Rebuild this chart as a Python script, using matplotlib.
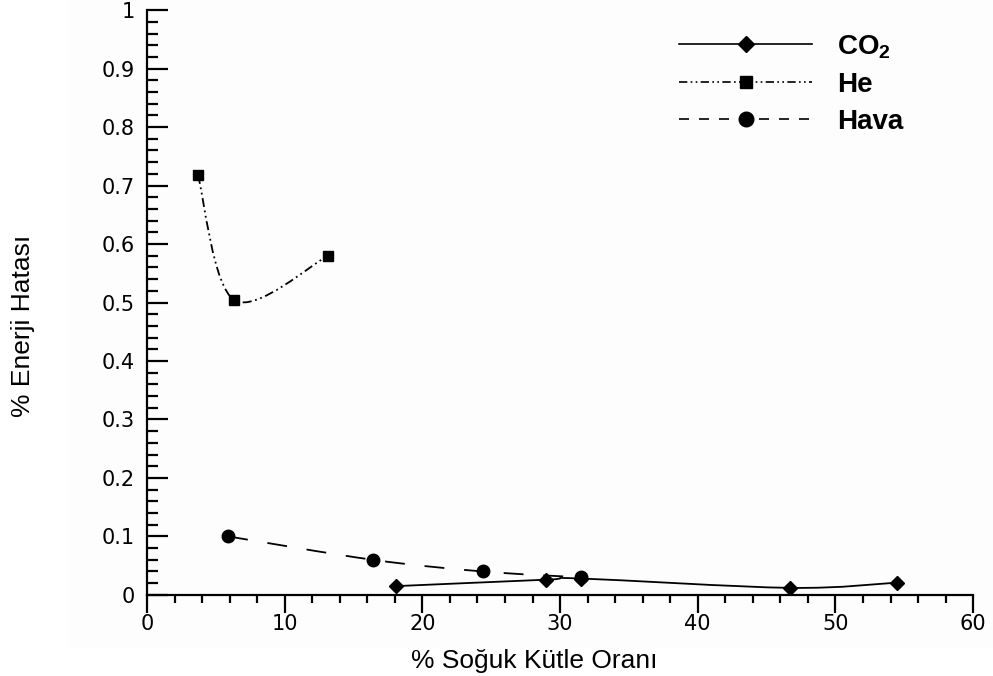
import matplotlib
matplotlib.use('Agg')
import matplotlib.pyplot as plt
import numpy as np
from matplotlib.path import Path
from matplotlib.patches import PathPatch, Rectangle
from matplotlib.lines import Line2D
from matplotlib.ticker import MultipleLocator, FuncFormatter

plt.rcParams['mathtext.fontset'] = 'custom'
plt.rcParams['mathtext.rm'] = 'Liberation Sans'
plt.rcParams['mathtext.bf'] = 'Liberation Sans:bold'

# % cold mass fraction vs % energy error
co2_x = [18.1, 29.0, 31.5, 46.7, 54.5]
co2_y = [0.015, 0.026, 0.028, 0.012, 0.021]
he_x = [3.7, 6.35, 13.15]
he_y = [0.718, 0.504, 0.580]
hava_x = [5.9, 16.4, 24.4, 31.5]
hava_y = [0.100, 0.060, 0.040, 0.030]


def smooth_path(x, y):
    # catmull-rom style bezier through the points
    p = np.column_stack([x, y]).astype(float)
    pts = np.vstack([p[0], p, p[-1]])
    verts = [p[0]]
    codes = [Path.MOVETO]
    for i in range(1, len(pts) - 2):
        c1 = pts[i] + (pts[i + 1] - pts[i - 1]) / 6.0
        c2 = pts[i + 1] - (pts[i + 2] - pts[i]) / 6.0
        verts += [c1, c2, pts[i + 1]]
        codes += [Path.CURVE4] * 3
    return Path(verts, codes)


fig = plt.figure(figsize=(9.93, 6.76), dpi=100)
fig.patches.append(Rectangle((68 / 993, 1 - 647 / 676), 1 - 68 / 993, 647 / 676,
                             transform=fig.transFigure, color='#fdfdfd', zorder=-10))
ax = fig.add_axes([0.148, 0.12, 0.832, 0.865])
ax.patch.set_visible(False)

ls_co2 = '-'
ls_he = (0, (5, 2, 1, 2, 1, 2))
ls_hava = (0, (11, 11))

for xs, ys, ls in [(co2_x, co2_y, ls_co2), (he_x, he_y, ls_he), (hava_x, hava_y, ls_hava)]:
    ax.add_patch(PathPatch(smooth_path(xs, ys), fill=False, edgecolor='black',
                           lw=1.3, linestyle=ls, capstyle='butt'))

ax.plot(co2_x, co2_y, ls='none', marker='D', ms=7.5, color='black', clip_on=False)
ax.plot(he_x, he_y, ls='none', marker='s', ms=6.5, color='black', clip_on=False)
ax.plot(hava_x, hava_y, ls='none', marker='o', ms=9, color='black', clip_on=False)

ax.set_xlim(0, 60)
ax.set_ylim(0, 1)
ax.spines['top'].set_visible(False)
ax.spines['right'].set_visible(False)
ax.spines['left'].set_linewidth(1.6)
ax.spines['bottom'].set_linewidth(1.6)

ax.xaxis.set_major_locator(MultipleLocator(10))
ax.xaxis.set_minor_locator(MultipleLocator(2))
ax.yaxis.set_major_locator(MultipleLocator(0.1))
ax.yaxis.set_minor_locator(MultipleLocator(0.02))
ax.yaxis.set_major_formatter(FuncFormatter(lambda v, p: '%g' % round(v, 2)))

ax.tick_params(axis='x', which='major', direction='out', length=13, width=1.6,
               pad=1, labelsize=15)
ax.tick_params(axis='x', which='minor', direction='out', length=6, width=1.6)
ax.tick_params(axis='y', which='major', direction='in', length=15, width=1.6,
               pad=9, labelsize=15)
ax.tick_params(axis='y', which='minor', direction='in', length=8, width=1.6)

fig.text(534 / 993, 8 / 676, '% Soğuk Kütle Oranı', family='Liberation Sans',
         fontsize=19, ha='center', va='baseline')
fig.text(23 / 993, 1 - 326 / 676, '% Enerji Hatası', family='Liberation Sans',
         fontsize=19, rotation=90, ha='center', va='center')

handles = [
    Line2D([], [], color='black', lw=1.2, ls=ls_co2, marker='D', ms=8.5),
    Line2D([], [], color='black', lw=1.2, ls=ls_he, marker='s', ms=8),
    Line2D([], [], color='black', lw=1.2, ls=(0, (6, 6)), marker='o', ms=10.5),
]
labels = [r'CO$_\mathbf{2}$', 'He', 'Hava']
leg = fig.legend(handles, labels, loc='upper left',
                 bbox_to_anchor=(679 / 993, 1 - 33 / 676),
                 numpoints=1, handlelength=4.8, handletextpad=0.9,
                 labelspacing=0.4, borderpad=0, borderaxespad=0,
                 frameon=False, prop={'family': 'Liberation Sans', 'weight': 'bold', 'size': 20})

fig.savefig('out.png', dpi=100)
